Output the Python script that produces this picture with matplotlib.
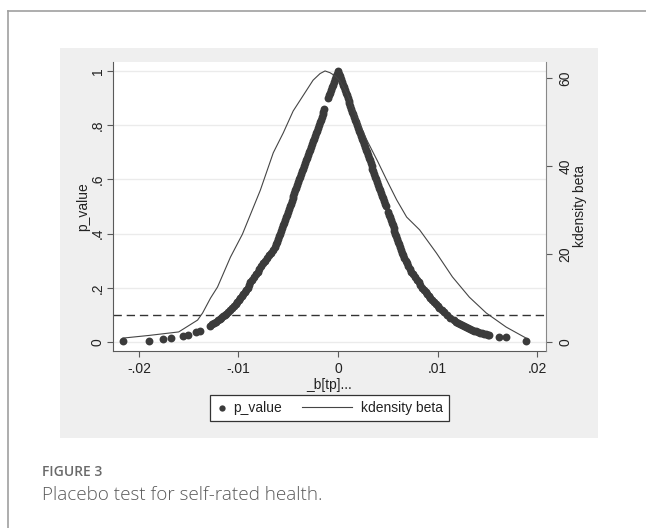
import numpy as np
import matplotlib
matplotlib.use("Agg")
import matplotlib.pyplot as plt
from matplotlib.patches import Rectangle
from matplotlib.lines import Line2D
from matplotlib.legend_handler import HandlerLine2D

plt.rcParams['font.family'] = ['Liberation Sans', 'DejaVu Sans']

# p_value of each placebo estimate (left of zero)
beta_left = [0.0, -0.0001, -0.00019, -0.00029, -0.00039, -0.00048, -0.00058, -0.00068,
             -0.00078, -0.00087, -0.00097, -0.00136, -0.00146, -0.00155, -0.00165,
             -0.00175, -0.00184, -0.00194, -0.00204, -0.00214, -0.00223, -0.00233,
             -0.00243, -0.00252, -0.00262, -0.00272, -0.00281, -0.00291, -0.00301,
             -0.00311, -0.0032, -0.0033, -0.0034, -0.0035, -0.00359, -0.00369, -0.00379,
             -0.00388, -0.00398, -0.00408, -0.00418, -0.00427, -0.00437, -0.00447,
             -0.00456, -0.00466, -0.00476, -0.00485, -0.00495, -0.00505, -0.00514,
             -0.00524, -0.00534, -0.00544, -0.00553, -0.00563, -0.00573, -0.00582,
             -0.0059, -0.0060, -0.0061, -0.0062, -0.0063, -0.0065, -0.0067, -0.0069,
             -0.0071, -0.0073, -0.0075, -0.0077, -0.0079, -0.0080, -0.0082, -0.0084,
             -0.0086, -0.0088, -0.0089, -0.0090, -0.0092, -0.0093, -0.0095, -0.0096,
             -0.0098, -0.0099, -0.0101, -0.0102, -0.0104, -0.0106, -0.0108, -0.0110,
             -0.0112, -0.0113, -0.0115, -0.0117, -0.0119, -0.0121, -0.0123, -0.0125,
             -0.0127, -0.0129, -0.0139, -0.0143, -0.0151, -0.0156, -0.0168, -0.0176,
             -0.0190, -0.0216]
p_left = [1.0, 0.99, 0.98, 0.97, 0.96, 0.95, 0.94, 0.93, 0.92, 0.91, 0.90, 0.86, 0.85,
          0.84, 0.83, 0.82, 0.81, 0.80, 0.79, 0.78, 0.77, 0.76, 0.75, 0.74, 0.73, 0.72,
          0.71, 0.70, 0.69, 0.68, 0.67, 0.66, 0.65, 0.64, 0.63, 0.62, 0.61, 0.60, 0.59,
          0.58, 0.57, 0.56, 0.55, 0.54, 0.53, 0.52, 0.51, 0.50, 0.49, 0.48, 0.47, 0.46,
          0.45, 0.44, 0.43, 0.42, 0.41, 0.40, 0.39, 0.38, 0.37, 0.36, 0.35, 0.34, 0.33,
          0.32, 0.31, 0.30, 0.29, 0.28, 0.27, 0.26, 0.25, 0.24, 0.23, 0.22, 0.21, 0.20,
          0.192, 0.185, 0.178, 0.17, 0.162, 0.155, 0.148, 0.14, 0.132, 0.125, 0.118,
          0.11, 0.105, 0.10, 0.095, 0.09, 0.085, 0.08, 0.075, 0.07, 0.065, 0.06, 0.042,
          0.037, 0.026, 0.022, 0.014, 0.011, 0.005, 0.003]

# right of zero
beta_right = [0.0001, 0.00019, 0.00029, 0.00038, 0.00048, 0.00058, 0.00067, 0.00077, 0.00087, 0.00096,
              0.00106, 0.00115, 0.00125, 0.00135, 0.00144, 0.00154, 0.00163, 0.00173, 0.00183, 0.00192,
              0.00202, 0.00212, 0.00221, 0.00231, 0.0024, 0.0025, 0.0026, 0.00269, 0.00279, 0.00288,
              0.00298, 0.00308, 0.00317, 0.00327, 0.00337, 0.00346, 0.00356, 0.00365, 0.00375, 0.00385,
              0.00394, 0.00404, 0.00413, 0.00423, 0.00433, 0.00442, 0.00452, 0.00462, 0.00471, 0.00481,
              0.0050, 0.0051, 0.00519, 0.00529, 0.00538, 0.00548, 0.00558,
              0.0056, 0.0057, 0.0058, 0.0059, 0.0060, 0.0061, 0.0062, 0.0063, 0.0064, 0.0065,
              0.0066, 0.0068, 0.0069, 0.0070, 0.0072, 0.0073, 0.0075, 0.0077, 0.0079, 0.0081,
              0.0082, 0.0084, 0.0086, 0.0088, 0.0089, 0.0091, 0.0092, 0.0094, 0.0096, 0.0098,
              0.0100, 0.0102, 0.0105, 0.0107, 0.0110, 0.0113, 0.0117, 0.0119, 0.0121, 0.0123,
              0.0125, 0.0127, 0.0129, 0.0131, 0.0133, 0.0135, 0.0137, 0.0139, 0.0141, 0.0143,
              0.0145, 0.0147, 0.0149, 0.0151, 0.0152, 0.0162, 0.0169, 0.0189]
p_right = [0.99, 0.98, 0.97, 0.96, 0.95, 0.94, 0.93, 0.92, 0.91, 0.90,
           0.89, 0.88, 0.87, 0.86, 0.85, 0.84, 0.83, 0.82, 0.81, 0.80,
           0.79, 0.78, 0.77, 0.76, 0.75, 0.74, 0.73, 0.72, 0.71, 0.70,
           0.69, 0.68, 0.67, 0.66, 0.65, 0.64, 0.63, 0.62, 0.61, 0.60,
           0.59, 0.58, 0.57, 0.56, 0.55, 0.54, 0.53, 0.52, 0.51, 0.50,
           0.48, 0.47, 0.46, 0.45, 0.44, 0.43, 0.42,
           0.41, 0.40, 0.39, 0.38, 0.37, 0.36, 0.35, 0.34, 0.33, 0.32,
           0.31, 0.30, 0.29, 0.28, 0.27, 0.26, 0.25, 0.24, 0.23, 0.22,
           0.21, 0.20, 0.192, 0.185, 0.178, 0.17, 0.162, 0.155, 0.148, 0.14,
           0.132, 0.125, 0.118, 0.11, 0.10, 0.09, 0.08, 0.075, 0.07, 0.066,
           0.063, 0.059, 0.055, 0.051, 0.048, 0.045, 0.042, 0.04, 0.037, 0.035,
           0.032, 0.03, 0.028, 0.026, 0.025, 0.019, 0.018, 0.004]

# kernel density of beta
kd_x = [-0.0216, -0.019, -0.016, -0.0141, -0.0136, -0.0128, -0.0121, -0.0108, -0.0096,
        -0.0078, -0.0065, -0.0055, -0.0045, -0.0035, -0.0025, -0.0018, -0.0013, -0.0008,
        -0.0003, 0.0002, 0.0009, 0.0019, 0.0029, 0.004, 0.0049, 0.0059, 0.0069, 0.0082,
        0.0099, 0.0115, 0.0132, 0.0149, 0.0169, 0.0189]
kd_y = [0.9, 1.5, 2.3, 5.0, 6.6, 10.0, 12.5, 19.3, 24.5, 34.5, 43.0, 47.5, 52.5, 56.0, 59.5,
        61.0, 61.6, 61.2, 60.5, 59.3, 56.6, 51.1, 45.9, 41.0, 36.8, 32.3, 28.4, 25.5, 20.2,
        14.8, 10.2, 6.6, 3.4, 0.9]

p_cut = 0.1
xticks = [-0.02, -0.01, 0.0, 0.01, 0.02]
xticklabels = ['-.02', '-.01', '0', '.01', '.02']
yticks = [0, 0.2, 0.4, 0.6, 0.8, 1]
yticklabels = ['0', '.2', '.4', '.6', '.8', '1']
y2ticks = [0, 20, 40, 60]
y2ticklabels = ['0', '20', '40', '60']

W, H = 646, 528
fig = plt.figure(figsize=(W / 100, H / 100), dpi=100)

# page frame and grey graph region
fig.add_artist(Line2D([7.5 / W, 7.5 / W], [0, 1 - 10.5 / H], color='#a0a0a0', lw=1.2))
fig.add_artist(Line2D([7.5 / W, 1], [1 - 10.5 / H, 1 - 10.5 / H], color='#a0a0a0', lw=1.2))
fig.add_artist(Rectangle((60 / W, 1 - 438 / H), 538 / W, 390 / H,
                         facecolor='#efefef', edgecolor='none', zorder=0))

ax = fig.add_axes([113 / W, 1 - 351 / H, 433 / W, 289 / H])
ax.set_facecolor('white')
ax2 = ax.twinx()

dark = '#3b3b3b'
sc = ax.scatter(beta_left + beta_right, p_left + p_right, s=32, color=dark,
                linewidths=0, zorder=3, label='p_value')
ax.axhline(p_cut, color='#333333', lw=1.0, dashes=(6, 3.5), zorder=2)
for t in yticks:
    ax.axhline(t, color='#ebebeb', lw=1.0, zorder=1)

ln, = ax2.plot(kd_x, kd_y, color='#454545', lw=0.8, label='kdensity beta')

ax.set_xlim(-0.0226, 0.0209)
ax.set_ylim(-0.033, 1.033)
ax2.set_ylim(-0.033 * 61.6, 1.033 * 61.6)

ax.set_xticks(xticks)
ax.set_xticklabels(xticklabels)
ax.set_yticks(yticks)
ax.set_yticklabels(yticklabels, rotation=90, va='center')
ax2.set_yticks(y2ticks)
ax2.set_yticklabels(y2ticklabels, rotation=90, va='center')

spine_c = '#5a5a5a'
for a in (ax, ax2):
    a.spines['top'].set_visible(False)
    a.tick_params(colors='#222222', labelsize=10, length=4, width=0.8, color=spine_c)
ax.spines['right'].set_visible(False)
ax.spines['left'].set_color(spine_c)
ax.spines['bottom'].set_color(spine_c)
ax2.spines['left'].set_visible(False)
ax2.spines['bottom'].set_visible(False)
ax2.spines['right'].set_color('#888888')
ax.tick_params(axis='x', pad=4)
ax.tick_params(axis='y', pad=2)
ax2.tick_params(axis='y', pad=5)

ax.set_xlabel('_b[tp]...', fontsize=10, labelpad=1, color='#222222')
ax.set_ylabel('p_value', fontsize=10, labelpad=0, color='#222222')
ax2.set_ylabel('kdensity beta', fontsize=10, labelpad=0, color='#222222')


class WideLine(HandlerLine2D):
    def get_xdata(self, legend, xdescent, ydescent, width, height, fontsize):
        xd = np.array([-xdescent - 2.95 * fontsize, -xdescent + 0.65 * fontsize])
        return xd, xd[:1]


leg = fig.legend([sc, ln], ['p_value', 'kdensity beta'], loc='center',
                 bbox_to_anchor=(329.5 / W, 1 - 408 / H), ncol=2, fontsize=10,
                 frameon=True, fancybox=False, edgecolor='#333333', facecolor='white',
                 framealpha=1, handlelength=0.9, handletextpad=0.4, columnspacing=4.4,
                 borderpad=0.4, borderaxespad=0, scatterpoints=1, markerscale=0.8,
                 handler_map={Line2D: WideLine()})
leg.get_frame().set_linewidth(0.9)
for t in leg.get_texts():
    t.set_color('#222222')

fig.text(42.5 / W, 1 - 475.7 / H, 'FIGURE 3', fontsize=10, color='#6a6a6a',
         fontweight='semibold', family=['Open Sans', 'DejaVu Sans'], va='baseline')
fig.text(42.5 / W, 1 - 500 / H, 'Placebo test for self-rated health.', fontsize=13.6,
         color='#5a5a5a', fontweight='light', family=['Open Sans', 'DejaVu Sans'],
         va='baseline')

fig.savefig('out.png', dpi=100)
